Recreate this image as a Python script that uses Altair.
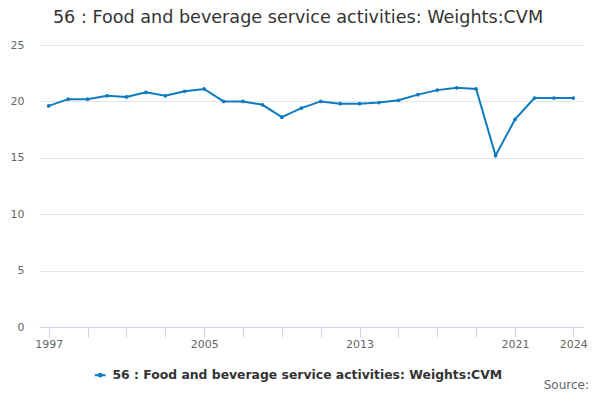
import altair as alt
import pandas as pd

years = list(range(1997, 2025))
values = [19.6, 20.2, 20.2, 20.5, 20.4, 20.8, 20.5, 20.9, 21.1, 20.0,
          20.0, 19.7, 18.6, 19.4, 20.0, 19.8, 19.8, 19.9, 20.1, 20.6,
          21.0, 21.2, 21.1, 15.2, 18.4, 20.3, 20.3, 20.3]
series_name = "56 : Food and beverage service activities: Weights:CVM"
title_text = "56 : Food and beverage service activities: Weights:CVM"
x_tick_values = [1997, 1999, 2001, 2003, 2005, 2007, 2009, 2011, 2013, 2015,
                 2017, 2019, 2021, 2024]
x_label_values = [1997, 2005, 2013, 2021, 2024]
y_tick_values = [0, 5, 10, 15, 20, 25]

df = pd.DataFrame({"year": years, "value": values, "series": series_name})

blue = "#0c7bc0"
font = "DejaVu Sans"

label_expr = " || ".join(f"datum.value == {v}" for v in x_label_values)

x_enc = alt.X(
    "year:Q",
    scale=alt.Scale(domain=[1996.5, 2024.5], nice=False, zero=False),
    axis=alt.Axis(
        values=x_tick_values,
        labelExpr=f"({label_expr}) ? format(datum.value, 'd') : ''",
        title=None,
        grid=False,
        domainColor="#ccd6eb",
        tickColor="#ccd6eb",
        tickSize=10,
        labelPadding=1,
        labelColor="#666666",
        labelFontSize=11,
        labelFont=font,
        labelFlush=False,
    ),
)
y_enc = alt.Y(
    "value:Q",
    scale=alt.Scale(domain=[0, 25], nice=False),
    axis=alt.Axis(
        values=y_tick_values,
        title=None,
        grid=True,
        gridColor="#e6e6e6",
        domain=False,
        ticks=False,
        labelPadding=15,
        labelColor="#666666",
        labelFontSize=11,
        labelFont=font,
    ),
)

legend_symbol = "M-1.4,0L1.4,0M-0.35,0a0.35,0.35 0 1,0 0.7,0a0.35,0.35 0 1,0 -0.7,0"

line = alt.Chart(df).mark_line(strokeWidth=2, color=blue).encode(
    x=x_enc,
    y=y_enc,
    color=alt.Color(
        "series:N",
        scale=alt.Scale(range=[blue]),
        legend=alt.Legend(
            title=None,
            orient="none",
            legendX=55,
            legendY=324,
            direction="horizontal",
            symbolType=legend_symbol,
            symbolSize=60,
            symbolStrokeWidth=2,
            symbolStrokeColor=blue,
            symbolFillColor=blue,
            labelFont=font,
            labelFontSize=12.4,
            labelFontWeight="bold",
            labelColor="#333333",
            labelLimit=600,
            labelOffset=6,
        ),
    ),
)

points = alt.Chart(df).mark_point(filled=True, size=14, color=blue, opacity=1).encode(
    x="year:Q", y="value:Q"
)

source = alt.Chart(pd.DataFrame({"t": ["Source:"]})).mark_text(
    font=font, fontSize=12, color="#666666", align="right", baseline="alphabetic"
).encode(x=alt.value(550), y=alt.value(344), text="t:N")

chart = alt.layer(line, points, source).properties(
    width=544,
    height=282,
    title=alt.TitleParams(
        title_text,
        font=font,
        fontSize=17.6,
        fontWeight="normal",
        color="#333333",
        anchor="middle",
        dx=-13,
        offset=12,
    ),
    autosize=alt.AutoSizeParams(type="none"),
    padding={"left": 31, "top": 37, "right": 9, "bottom": 65},
).configure_view(stroke=None)

chart.save("out.html", embed_options={"renderer": "svg", "actions": False})
